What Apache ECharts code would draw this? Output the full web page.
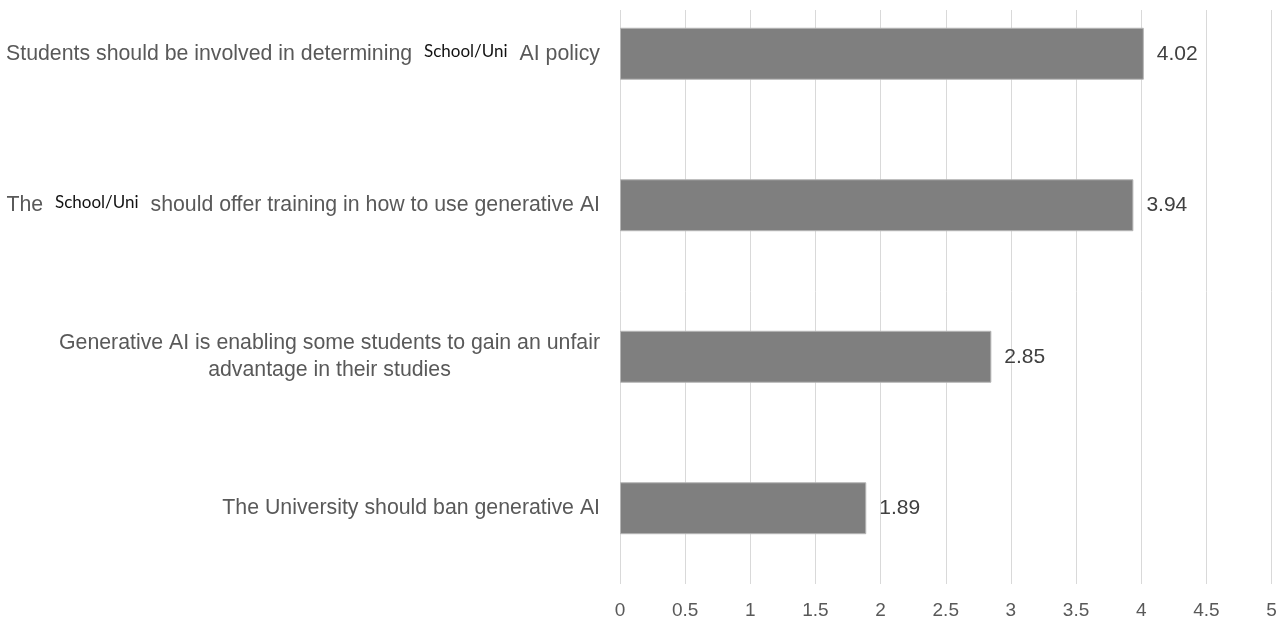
<!DOCTYPE html>
<html>
<head>
<meta charset="utf-8">
<script src="https://cdn.jsdelivr.net/npm/echarts@6/dist/echarts.min.js"></script>
<style>
html,body{margin:0;padding:0;background:#fff;}
#chart{width:1283px;height:621px;}
</style>
</head>
<body>
<div id="chart"></div>
<script>
const categories = [
  "Students should be involved in determining School/Uni AI policy",
  "The School/Uni should offer training in how to use generative AI",
  "Generative AI is enabling some students to gain an unfair\nadvantage in their studies",
  "The University should ban generative AI"
];
const values = [4.02, 3.94, 2.85, 1.89];
const xTicks = { min: 0, max: 5, interval: 0.5 };
const highlight = "School/Uni";

function formatCategory(name) {
  const lines = name.split("\n");
  return lines.map(function (line, i) {
    if (i > 0) return "{c|" + line + "}";
    const parts = line.split(highlight);
    if (parts.length === 1) return line;
    return parts.join("{s|" + highlight + "}");
  }).join("\n");
}

const chart = echarts.init(document.getElementById("chart"), null, { renderer: "canvas" });
chart.setOption({
  animation: false,
  backgroundColor: "#ffffff",
  grid: { left: 620, right: 11.5, top: -22, bottom: 37, containLabel: false, outerBoundsMode: "none" },
  xAxis: {
    type: "value",
    min: xTicks.min,
    max: xTicks.max,
    interval: xTicks.interval,
    axisLine: { show: false },
    axisTick: { show: false },
    splitLine: { show: true, lineStyle: { color: "#d9d9d9", width: 1 } },
    axisLabel: {
      color: "#595959",
      fontSize: 19,
      fontFamily: "'Liberation Sans Narrow', 'Liberation Sans', Arial, sans-serif",
      margin: 17
    }
  },
  yAxis: {
    type: "category",
    inverse: true,
    data: categories,
    axisLine: { show: false },
    axisTick: { show: false },
    splitLine: { show: false },
    axisLabel: {
      color: "#595959",
      fontSize: 21.3,
      fontFamily: "'Liberation Sans', Arial, sans-serif",
      margin: 20,
      lineHeight: 27,
      align: "right",
      formatter: formatCategory,
      rich: {
        s: {
          fontFamily: "Lato, 'Open Sans', sans-serif",
          fontSize: 17,
          color: "#111111",
          padding: [0, 6, 5, 6]
        },
        c: {
          align: "center",
          color: "#595959",
          fontSize: 21.3,
          fontFamily: "'Liberation Sans', Arial, sans-serif",
          lineHeight: 27
        }
      }
    }
  },
  graphic: [
    { type: "rect", shape: { x: 600, y: 0, width: 683, height: 10 }, style: { fill: "#ffffff" }, z: 100 }
  ],
  series: [{
    type: "bar",
    data: values,
    barWidth: "34.3%",
    itemStyle: { color: "#7f7f7f", borderColor: "#b5b5b5", borderWidth: 1 },
    label: {
      show: true,
      position: "right",
      distance: 13,
      color: "#404040",
      fontSize: 21,
      fontFamily: "'Liberation Sans', Arial, sans-serif",
      formatter: function (p) { return p.value.toFixed(2); }
    }
  }]
});
</script>
</body>
</html>
